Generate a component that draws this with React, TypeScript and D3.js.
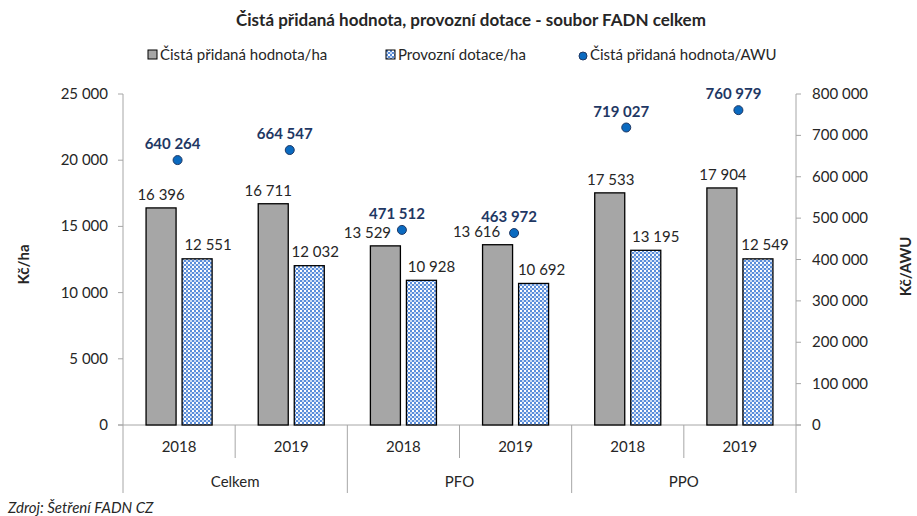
import * as d3 from 'd3'

const groups = ['Celkem', 'PFO', 'PPO']
const years = ['2018', '2019']
const cistaHa = [16396, 16711, 13529, 13616, 17533, 17904]
const dotaceHa = [12551, 12032, 10928, 10692, 13195, 12549]
const cistaAwu = [640264, 664547, 471512, 463972, 719027, 760979]
const leftTicks = [0, 5000, 10000, 15000, 20000, 25000]
const rightTicks = [0, 100000, 200000, 300000, 400000, 500000, 600000, 700000, 800000]

// hand-nudged label offsets (like the manually moved labels in the Excel original)
const grayLabelDx = [0, -5, -18, -21, 1, 1]
const blueLabelDx = [11, 6, 10, 8, 10, 7]

const W = 917
const H = 516
const font = 'Lato, "Open Sans", sans-serif'
const fmt = (v: number) => d3.format(',')(v).replace(/,/g, ' ')

export default function App() {
  const x0 = 123
  const x1 = 796
  const yTop = 94
  const yBase = 425
  const cats = groups.flatMap(g => years.map(y => `${g}|${y}`))
  const x = d3.scaleBand<string>().domain(cats).range([x0, x1])
  const xs = d3.scaleBand<string>().domain(['a', 'b']).range([0, x.bandwidth()]).paddingInner(0.167).paddingOuter(0.64)
  const yL = d3.scaleLinear().domain([0, 25000]).range([yBase, yTop])
  const yR = d3.scaleLinear().domain([0, 800000]).range([yBase, yTop])
  const gridCol = '#A6A6A6'
  const txt = '#262626'
  const navy = '#1F3864'

  return (
    <svg width={W} height={H} style={{ position: 'absolute', left: 0, top: 0, background: '#fff' }} fontFamily={font}>
      <defs>
        <pattern id="chk" width={4} height={4} patternUnits="userSpaceOnUse">
          <rect width={4} height={4} fill="#fff" />
          <rect width={2} height={2} fill="#5B8EDA" />
          <rect x={2} y={2} width={2} height={2} fill="#5B8EDA" />
          <rect x={2} y={0} width={2} height={2} fill="#C9DAF3" />
        </pattern>
      </defs>
      <rect width={W} height={H} fill="#fff" />
      <text x={471} y={26} textAnchor="middle" fontSize={17} fontWeight="bold" fill={txt}>
        Čistá přidaná hodnota, provozní dotace - soubor FADN celkem
      </text>

      {/* legend */}
      <g fontSize={15} fill={txt}>
        <rect x={148} y={50} width={9} height={9} fill="#A6A6A6" stroke="#000" />
        <text x={160} y={60}>Čistá přidaná hodnota/ha</text>
        <rect x={386} y={50} width={9} height={9} fill="url(#chk)" stroke="#000" />
        <text x={398} y={60}>Provozní dotace/ha</text>
        <circle cx={583} cy={56} r={4} fill="#0A6AC0" stroke="#1F3864" />
        <text x={590} y={60}>Čistá přidaná hodnota/AWU</text>
      </g>

      {/* left axis */}
      <line x1={x0} x2={x0} y1={yTop} y2={yBase} stroke={gridCol} />
      {leftTicks.map(t => (
        <g key={t}>
          <line x1={x0 - 5} x2={x0} y1={yL(t)} y2={yL(t)} stroke={gridCol} />
          <text x={108} y={yL(t) + 5} textAnchor="end" fontSize={15} fill={txt}>{fmt(t)}</text>
        </g>
      ))}
      <text transform={`translate(29,${(yTop + yBase) / 2 + 5}) rotate(-90)`} textAnchor="middle" fontSize={15} fontWeight="bold" fill={txt}>Kč/ha</text>

      {/* right axis */}
      <line x1={x1} x2={x1} y1={yTop} y2={yBase} stroke={gridCol} />
      {rightTicks.map(t => (
        <g key={t}>
          <line x1={x1} x2={x1 + 5} y1={yR(t)} y2={yR(t)} stroke={gridCol} />
          <text x={812} y={yR(t) + 5} textAnchor="start" fontSize={15} fill={txt}>{fmt(t)}</text>
        </g>
      ))}
      <text transform={`translate(911,${(yTop + yBase) / 2 + 7}) rotate(-90)`} textAnchor="middle" fontSize={15} fontWeight="bold" fill={txt}>Kč/AWU</text>

      {/* category axis */}
      <line x1={x0 - 5} x2={x1 + 5} y1={yBase} y2={yBase} stroke={gridCol} />
      {cats.map((c, i) => {
        const left = x(c)!
        const isGroupStart = i % 2 === 0
        return (
          <g key={c}>
            <line x1={left} x2={left} y1={yBase} y2={isGroupStart ? 493 : 458} stroke={gridCol} />
            <text x={left + x.bandwidth() / 2} y={452} textAnchor="middle" fontSize={15} fill={txt}>{c.split('|')[1]}</text>
          </g>
        )
      })}
      <line x1={x1} x2={x1} y1={yBase} y2={493} stroke={gridCol} />
      {groups.map((g, i) => {
        const a = x(cats[i * 2])!
        const b = x(cats[i * 2 + 1])! + x.bandwidth()
        return (
          <text key={g} x={(a + b) / 2} y={487} textAnchor="middle" fontSize={15} fill={txt}>{g}</text>
        )
      })}

      {/* bars */}
      {cats.map((c, i) => {
        const left = x(c)!
        const ga = left + xs('a')!
        const gb = left + xs('b')!
        const bw = xs.bandwidth()
        return (
          <g key={'b' + c}>
            <rect x={ga} y={yL(cistaHa[i])} width={bw} height={yBase - yL(cistaHa[i])} fill="#A6A6A6" stroke="#000" strokeWidth={1.3} />
            <rect x={gb} y={yL(dotaceHa[i])} width={bw} height={yBase - yL(dotaceHa[i])} fill="url(#chk)" stroke="#000" strokeWidth={1.3} />
            <text x={ga + bw / 2 + grayLabelDx[i]} y={yL(cistaHa[i]) - 8} textAnchor="middle" fontSize={15} fill={txt}>{fmt(cistaHa[i])}</text>
            <text x={gb + bw / 2 + blueLabelDx[i]} y={yL(dotaceHa[i]) - 8.5} textAnchor="middle" fontSize={15} fill={txt}>{fmt(dotaceHa[i])}</text>
          </g>
        )
      })}

      {/* AWU points */}
      {cats.map((c, i) => {
        const cx = x(c)! + x.bandwidth() / 2 - 1.5
        const cy = yR(cistaAwu[i])
        return (
          <g key={'p' + c}>
            <circle cx={cx} cy={cy} r={4.5} fill="#0A6AC0" stroke="#1F3864" strokeWidth={1} />
            <text x={cx - 5} y={cy - 11} textAnchor="middle" fontSize={15} fontWeight="bold" fill={navy}>{fmt(cistaAwu[i])}</text>
          </g>
        )
      })}

      <text x={8} y={513} fontSize={15} fontStyle="italic" fill={txt}>Zdroj: Šetření FADN CZ</text>
    </svg>
  )
}
